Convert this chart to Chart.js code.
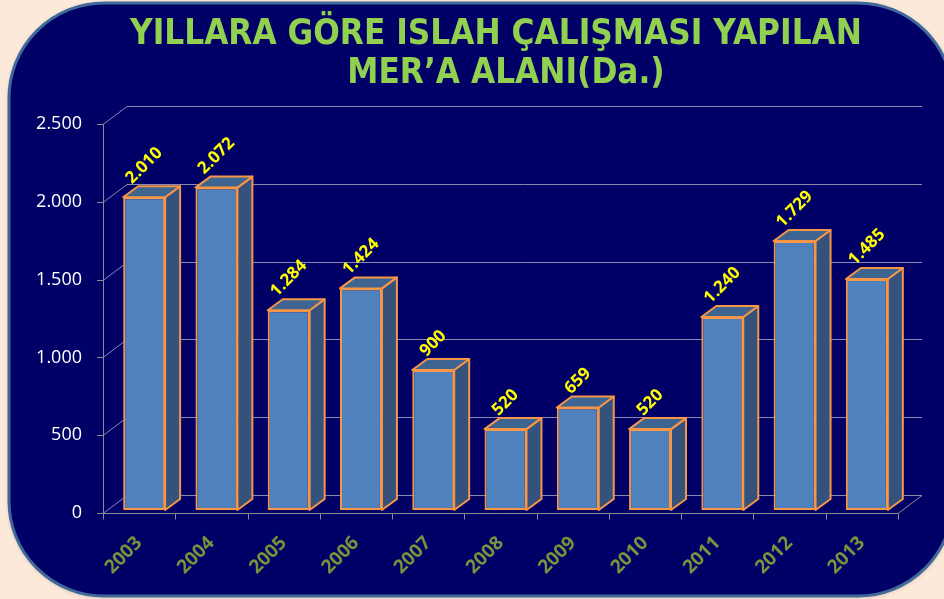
<!DOCTYPE html>
<html lang="tr">
<head>
<meta charset="utf-8">
<title>Yıllara göre ıslah çalışması yapılan mer'a alanı</title>
<script src="https://cdn.jsdelivr.net/npm/chart.js@4.4.1/dist/chart.umd.min.js"></script>
<style>
    html, body { margin: 0; padding: 0; background: #fde9d9; }
    #kutu { width: 944px; height: 599px; }
</style>
</head>
<body>
<div id="kutu"><canvas id="grafik" width="944" height="599"></canvas></div>
<script>
    const yillar = ['2003', '2004', '2005', '2006', '2007', '2008', '2009', '2010', '2011', '2012', '2013'];
    const alanlar = [2010, 2072, 1284, 1424, 900, 520, 659, 520, 1240, 1729, 1485];
    const yTikleri = [0, 500, 1000, 1500, 2000, 2500];
    const baslik = ['YILLARA GÖRE ISLAH ÇALIŞMASI YAPILAN', 'MER’A ALANI(Da.)'];

    // 3B görünüm ayarları
    const DUVAR_X = 24, DUVAR_Y = -18;    // arka duvar kayması
    const ON_X = 5, ON_Y = -3;            // sütun ön yüzünün ön düzlemden kayması
    const DERIN_X = 15, DERIN_Y = -11;    // sütun derinliği

    function binlik(v) { return String(v).replace(/\B(?=(\d{3})+(?!\d))/g, '.'); }

    function yuvarlakKutu(ctx, x, y, w, h, r) {
        ctx.beginPath();
        ctx.moveTo(x + r, y);
        ctx.lineTo(x + w - r, y);
        ctx.arcTo(x + w, y, x + w, y + r, r);
        ctx.lineTo(x + w, y + h - r);
        ctx.arcTo(x + w, y + h, x + w - r, y + h, r);
        ctx.lineTo(x + r, y + h);
        ctx.arcTo(x, y + h, x, y + h - r, r);
        ctx.lineTo(x, y + r);
        ctx.arcTo(x, y, x + r, y, r);
        ctx.closePath();
    }

    const panel = {
        id: 'panel',
        beforeDraw(chart) {
            const ctx = chart.ctx;
            ctx.save();
            ctx.fillStyle = '#fde9d9';
            ctx.fillRect(0, 0, chart.width, chart.height);

            yuvarlakKutu(ctx, 9, 3, 944, 593, 95);
            ctx.shadowColor = 'rgba(60,60,60,0.35)';
            ctx.shadowBlur = 4;
            ctx.shadowOffsetY = 1;
            ctx.fillStyle = '#000066';
            ctx.fill();
            ctx.shadowColor = 'transparent';
            ctx.lineWidth = 3;
            ctx.strokeStyle = '#41689b';
            ctx.stroke();

            // başlık
            ctx.fillStyle = '#92d050';
            ctx.font = 'bold 35px "DejaVu Sans"';
            ctx.textAlign = 'center';
            ctx.textBaseline = 'alphabetic';
            const olcek = 732 / ctx.measureText(baslik[0]).width;
            const yerler = [[496, 44], [506, 83]];
            baslik.forEach((satir, i) => {
                ctx.save();
                ctx.translate(yerler[i][0], yerler[i][1]);
                ctx.scale(olcek, 1);
                ctx.fillText(satir, 0, 0);
                ctx.restore();
            });
            ctx.restore();
        }
    };

    const ucBoyut = {
        id: 'ucBoyut',
        beforeDatasetsDraw(chart) {
            const ctx = chart.ctx;
            const { left, right, top, bottom } = chart.chartArea;
            const ys = chart.scales.y;
            const xs = chart.scales.x;

            ctx.save();
            ctx.lineWidth = 1;
            ctx.strokeStyle = '#8989ad';
            ctx.beginPath();
            yTikleri.forEach(v => {
                const py = Math.round(ys.getPixelForValue(v)) + 0.5;
                ctx.moveTo(left, py);
                ctx.lineTo(left + DUVAR_X, py + DUVAR_Y);
                ctx.lineTo(right + DUVAR_X, py + DUVAR_Y);
            });
            ctx.stroke();

            ctx.strokeStyle = '#8c8c8c';
            ctx.beginPath();
            yTikleri.forEach(v => {
                const py = Math.round(ys.getPixelForValue(v)) + 0.5;
                ctx.moveTo(left - 6, py);
                ctx.lineTo(left, py);
            });
            const l = Math.round(left) + 0.5, b = Math.round(bottom) + 0.5;
            ctx.moveTo(l, top);
            ctx.lineTo(l, b);
            ctx.lineTo(right, b);
            ctx.lineTo(right + DUVAR_X, b + DUVAR_Y);
            const adim = xs.getPixelForValue(1) - xs.getPixelForValue(0);
            for (let i = 0; i <= yillar.length; i++) {
                const px = Math.round(xs.getPixelForValue(i) - adim / 2) + 0.5;
                ctx.moveTo(px, b);
                ctx.lineTo(px, b + 6);
            }
            ctx.stroke();
            ctx.restore();

            ctx.save();
            ctx.translate(ON_X, ON_Y);
        },
        afterDatasetsDraw(chart) {
            const ctx = chart.ctx;
            const meta = chart.getDatasetMeta(0);

            meta.data.forEach(el => {
                const xl = el.x - el.width / 2, xr = el.x + el.width / 2;
                const yt = el.y, yb = el.base;
                ctx.lineWidth = 2;
                ctx.strokeStyle = '#f79646';
                ctx.lineJoin = 'round';

                ctx.beginPath();
                ctx.moveTo(xr, yt);
                ctx.lineTo(xr + DERIN_X, yt + DERIN_Y);
                ctx.lineTo(xr + DERIN_X, yb + DERIN_Y);
                ctx.lineTo(xr, yb);
                ctx.closePath();
                ctx.fillStyle = '#34527b';
                ctx.fill();
                ctx.stroke();

                ctx.beginPath();
                ctx.moveTo(xl, yt);
                ctx.lineTo(xl + DERIN_X, yt + DERIN_Y);
                ctx.lineTo(xr + DERIN_X, yt + DERIN_Y);
                ctx.lineTo(xr, yt);
                ctx.closePath();
                ctx.fillStyle = '#3e6592';
                ctx.fill();
                ctx.stroke();
            });
            ctx.restore();

            // değer etiketleri
            ctx.save();
            ctx.font = 'bold 17px "Open Sans"';
            ctx.fillStyle = '#ffff00';
            ctx.textAlign = 'center';
            ctx.textBaseline = 'middle';
            meta.data.forEach((el, i) => {
                const yazi = binlik(alanlar[i]);
                const L = ctx.measureText(yazi).width;
                const kutu = (L + 12) / Math.SQRT2;
                const cx = el.x + ON_X;
                const cy = el.y + ON_Y - 12 - kutu / 2;
                ctx.save();
                ctx.translate(cx, cy);
                ctx.rotate(-Math.PI / 4);
                ctx.fillText(yazi, 0, 0);
                ctx.restore();
            });
            ctx.restore();
        }
    };

    new Chart(document.getElementById('grafik'), {
        type: 'bar',
        data: {
            labels: yillar,
            datasets: [{
                data: alanlar,
                backgroundColor: '#4f81bd',
                borderColor: '#f79646',
                borderWidth: 2,
                borderSkipped: false,
                barPercentage: 0.58,
                categoryPercentage: 1,
                clip: false
            }]
        },
        options: {
            responsive: false,
            animation: false,
            devicePixelRatio: 1,
            layout: { padding: { top: 124, right: 46, left: 0, bottom: 0 } },
            plugins: {
                legend: { display: false },
                title: { display: false },
                tooltip: { enabled: false }
            },
            scales: {
                x: {
                    grid: { display: false, drawTicks: false },
                    border: { display: false },
                    ticks: {
                        color: '#77933c',
                        font: { family: 'Open Sans', size: 19, weight: 'bold' },
                        maxRotation: 45,
                        minRotation: 45,
                        padding: 19
                    },
                    afterFit(scale) { scale.height = 86; }
                },
                y: {
                    min: 0,
                    max: 2500,
                    grid: { display: false, drawTicks: false },
                    border: { display: false },
                    ticks: {
                        stepSize: 500,
                        color: '#ffffff',
                        font: { family: 'Open Sans', size: 18 },
                        padding: 21,
                        callback: v => binlik(v)
                    },
                    afterFit(scale) { scale.width = 103; }
                }
            }
        },
        plugins: [panel, ucBoyut]
    });
</script>
</body>
</html>
